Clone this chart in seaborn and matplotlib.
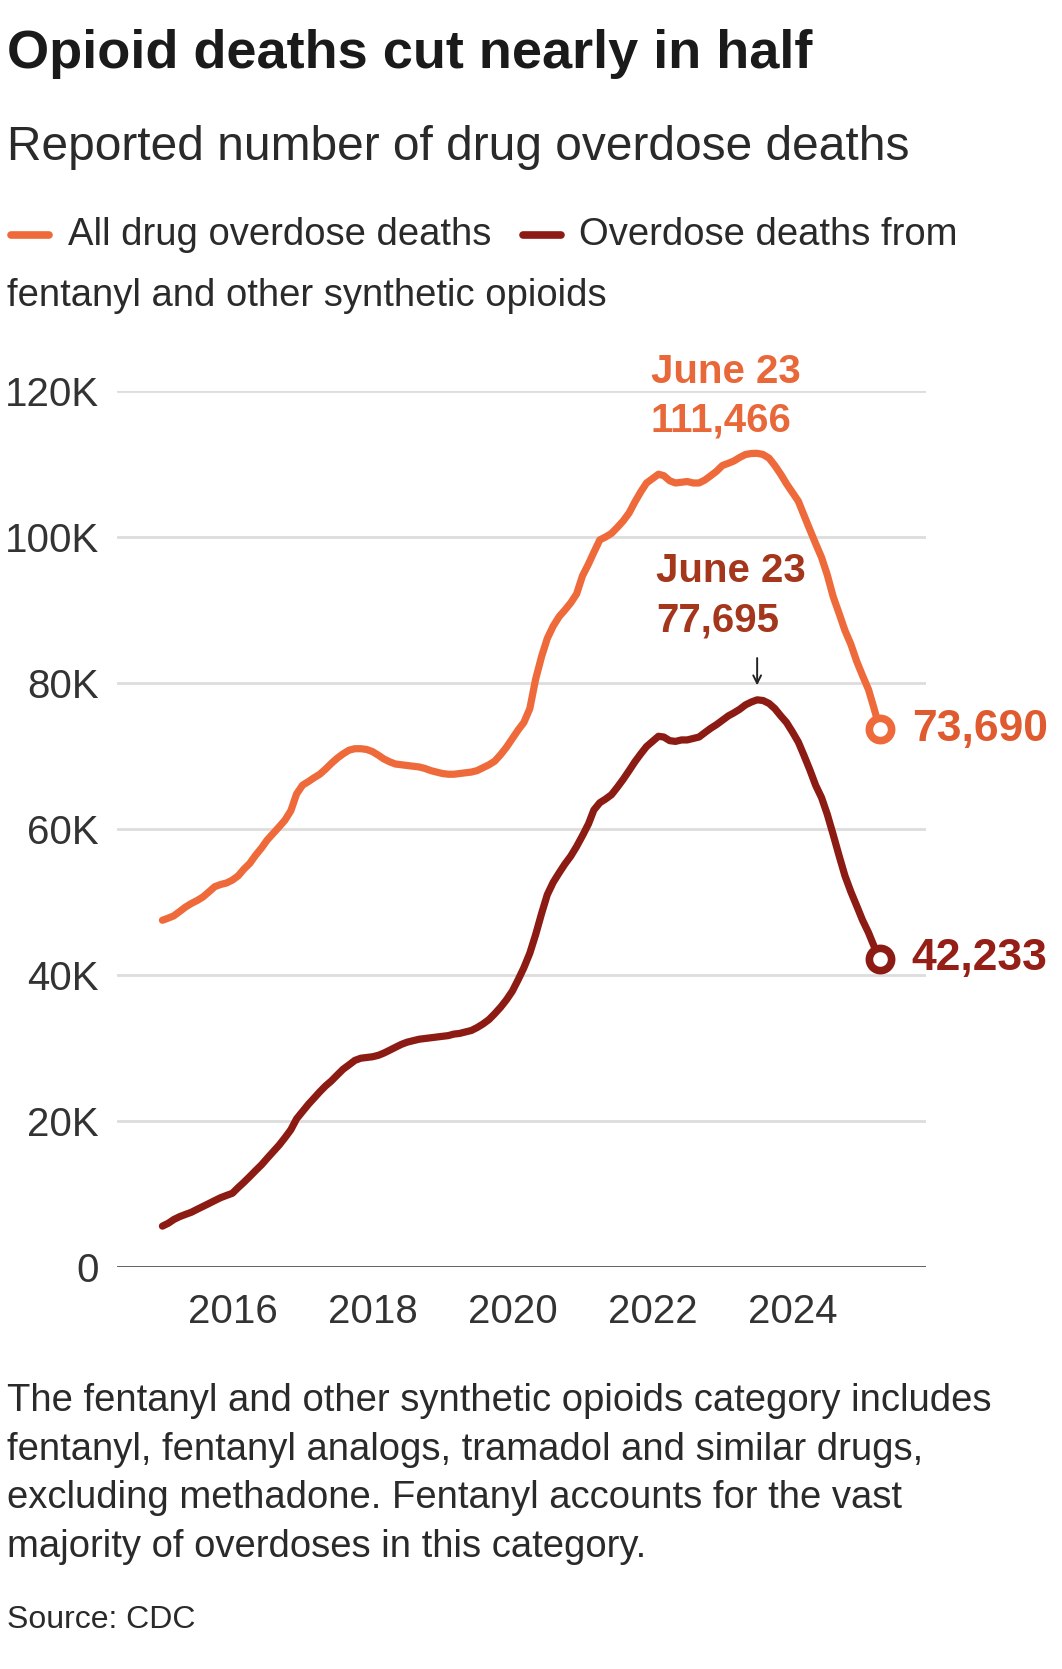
import matplotlib
matplotlib.use("Agg")
import matplotlib.pyplot as plt
import seaborn as sns
import pandas as pd

# Data: 12-month rolling counts of overdose deaths (thousands), month ends Dec 2014 - Mar 2025
months = pd.date_range("2014-12-31", periods=124, freq="ME")

all_deaths = [
    47.5, 47.8, 48.1, 48.7, 49.3, 49.8, 50.2, 50.7, 51.4, 52.1, 52.4, 52.6,
    53.0, 53.6, 54.5, 55.3, 56.4, 57.4, 58.5, 59.4, 60.3, 61.2, 62.5, 64.8,
    66.0, 66.5, 67.0, 67.5, 68.2, 69.0, 69.7, 70.3, 70.8, 71.0, 71.0, 70.9,
    70.6, 70.1, 69.6, 69.2, 68.9, 68.8, 68.7, 68.6, 68.5, 68.3, 68.0, 67.8,
    67.6, 67.5, 67.5, 67.6, 67.7, 67.8, 68.0, 68.4, 68.8, 69.3, 70.2, 71.2,
    72.4, 73.6, 74.6, 76.5, 80.5, 83.6, 86.1, 87.8, 89.1, 90.0, 91.0, 92.2,
    94.7, 96.3, 97.9, 99.6, 100.0, 100.5, 101.3, 102.2, 103.3, 104.8, 106.2, 107.4,
    108.0, 108.6, 108.4, 107.7, 107.4, 107.5, 107.6, 107.4, 107.4, 107.8, 108.4, 109.0,
    109.8, 110.1, 110.4, 110.9, 111.3, 111.44, 111.466, 111.3, 110.8, 109.8, 108.6, 107.3,
    106.1, 104.9, 103.0, 101.0, 99.1, 97.2, 94.8, 91.8, 89.5, 87.2, 85.3, 83.0,
    81.0, 79.1, 76.6, 73.69,
]

fentanyl_deaths = [
    5.6, 6.0, 6.5, 6.9, 7.2, 7.5, 7.9, 8.3, 8.7, 9.1, 9.5, 9.8,
    10.1, 10.9, 11.6, 12.4, 13.2, 14.0, 14.9, 15.8, 16.7, 17.7, 18.8, 20.3,
    21.3, 22.3, 23.1, 24.0, 24.8, 25.5, 26.3, 27.1, 27.7, 28.3, 28.6, 28.7,
    28.8, 29.0, 29.3, 29.7, 30.1, 30.5, 30.8, 31.0, 31.2, 31.3, 31.4, 31.5,
    31.6, 31.7, 31.9, 32.0, 32.2, 32.4, 32.8, 33.3, 33.9, 34.7, 35.6, 36.6,
    37.8, 39.4, 41.0, 43.0, 45.5, 48.4, 51.0, 52.7, 54.0, 55.2, 56.3, 57.6,
    59.1, 60.7, 62.6, 63.6, 64.1, 64.7, 65.7, 66.8, 68.0, 69.2, 70.3, 71.3,
    72.0, 72.7, 72.6, 72.1, 72.0, 72.2, 72.2, 72.4, 72.6, 73.2, 73.8, 74.3,
    74.9, 75.5, 75.9, 76.4, 77.0, 77.4, 77.695, 77.6, 77.2, 76.5, 75.5, 74.6,
    73.3, 71.9, 70.1, 68.1, 66.0, 64.3, 62.0, 59.2, 56.3, 53.6, 51.4, 49.5,
    47.5, 45.8, 44.0, 42.233,
]

series_names = ["All drug overdose deaths",
                "Overdose deaths from fentanyl and other synthetic opioids"]
colors = ["#EE6A3B", "#8C1B13"]
peak_label_colors = ["#E8683A", "#A3361B"]
end_label_colors = ["#E05A30", "#951F16"]

y_ticks = [0, 20000, 40000, 60000, 80000, 100000, 120000]
y_tick_labels = ["0", "20K", "40K", "60K", "80K", "100K", "120K"]
x_tick_years = [2016, 2018, 2020, 2022, 2024]

df = pd.concat([
    pd.DataFrame({"date": months, "deaths": [v * 1000 for v in all_deaths],
                  "series": series_names[0]}),
    pd.DataFrame({"date": months, "deaths": [v * 1000 for v in fentanyl_deaths],
                  "series": series_names[1]}),
])

sns.set_theme(style="white")
plt.rcParams["font.family"] = ["Liberation Sans", "DejaVu Sans"]

W, H = 1062, 1669
fig = plt.figure(figsize=(W / 100, H / 100), dpi=100)
ax = fig.add_axes([117 / W, 1 - 1267 / H, (926 - 117) / W, (1267 - 391) / H])

sns.lineplot(data=df, x="date", y="deaths", hue="series", palette=colors,
             linewidth=5.2, legend=False, ax=ax, solid_capstyle="round",
             solid_joinstyle="round")

ax.set_ylim(0, 120000)
ax.set_xlim(pd.Timestamp("2014-05-08"), pd.Timestamp("2025-11-27"))
ax.set_yticks(y_ticks)
ax.set_yticklabels(y_tick_labels)
ax.set_xticks([pd.Timestamp(f"{y}-01-01") for y in x_tick_years])
ax.set_xticklabels([str(y) for y in x_tick_years])
ax.set_xlabel("")
ax.set_ylabel("")
ax.tick_params(axis="y", length=0, pad=13, labelsize=29, labelcolor="#333333")
ax.tick_params(axis="x", length=0, pad=19, labelsize=29, labelcolor="#333333")
for s in ax.spines.values():
    s.set_visible(False)
ax.grid(False)
for t in y_ticks[1:]:
    ax.axhline(t, color="#DDDDDD", linewidth=2, zorder=0)
ax.axhline(0, color="#333333", linewidth=1.8, zorder=1)

# End points with value labels
last = months[-1]
for vals, c, lc in [(all_deaths, colors[0], end_label_colors[0]),
                    (fentanyl_deaths, colors[1], end_label_colors[1])]:
    v = vals[-1] * 1000
    ax.plot([last], [v], marker="o", markersize=16, markerfacecolor="white",
            markeredgecolor=c, markeredgewidth=5.5, zorder=5, clip_on=False)
    ax.annotate(f"{round(v):,}", (last, v), xytext=(23, 0), textcoords="offset points",
                va="center", ha="left", fontsize=32, fontweight="bold", color=lc,
                annotation_clip=False)

# Peak annotations
peak = months[all_deaths.index(max(all_deaths))]
tr = ax.get_yaxis_transform()
ax.text(0.660, 122600, "June 23", transform=tr, ha="left", va="center",
        fontsize=29, fontweight="bold", color=peak_label_colors[0])
ax.text(0.660, 115900, f"{round(max(all_deaths) * 1000):,}", transform=tr, ha="left",
        va="center", fontsize=29, fontweight="bold", color=peak_label_colors[0])
ax.text(0.666, 95400, "June 23", transform=tr, ha="left", va="center",
        fontsize=29, fontweight="bold", color=peak_label_colors[1])
ax.text(0.666, 88600, f"{round(max(fentanyl_deaths) * 1000):,}", transform=tr,
        ha="left", va="center", fontsize=29, fontweight="bold",
        color=peak_label_colors[1])
ax.annotate("", xy=(peak, 79300), xytext=(peak, 83800),
            arrowprops=dict(arrowstyle="->", color="#222222", lw=1.4,
                            mutation_scale=14))


def ftext(x, y, s, **kw):
    fig.text(x / W, 1 - y / H, s, va="center", ha="left", **kw)


ftext(7, 54, "Opioid deaths cut nearly in half", fontsize=39, fontweight="bold",
      color="#1A1A1A")
ftext(7, 147, "Reported number of drug overdose deaths", fontsize=34.5, color="#2A2A2A")

# Legend
fig.add_artist(plt.Line2D([11 / W, 49 / W], [1 - 235 / H] * 2, color=colors[0],
                          linewidth=5.5, solid_capstyle="round"))
ftext(68, 235, "All drug overdose deaths", fontsize=27.5, color="#2A2A2A")
fig.add_artist(plt.Line2D([523 / W, 561 / W], [1 - 235 / H] * 2, color=colors[1],
                          linewidth=5.5, solid_capstyle="round"))
ftext(579, 235, "Overdose deaths from", fontsize=27.5, color="#2A2A2A")
ftext(7, 296, "fentanyl and other synthetic opioids", fontsize=27.5, color="#2A2A2A")

note = ["The fentanyl and other synthetic opioids category includes",
        "fentanyl, fentanyl analogs, tramadol and similar drugs,",
        "excluding methadone. Fentanyl accounts for the vast",
        "majority of overdoses in this category."]
for i, line in enumerate(note):
    ftext(7, 1401 + i * 48.5, line, fontsize=27.5, color="#2A2A2A")
ftext(7, 1620, "Source: CDC", fontsize=23, color="#2A2A2A")

fig.savefig("out.png", dpi=100, facecolor="white")
